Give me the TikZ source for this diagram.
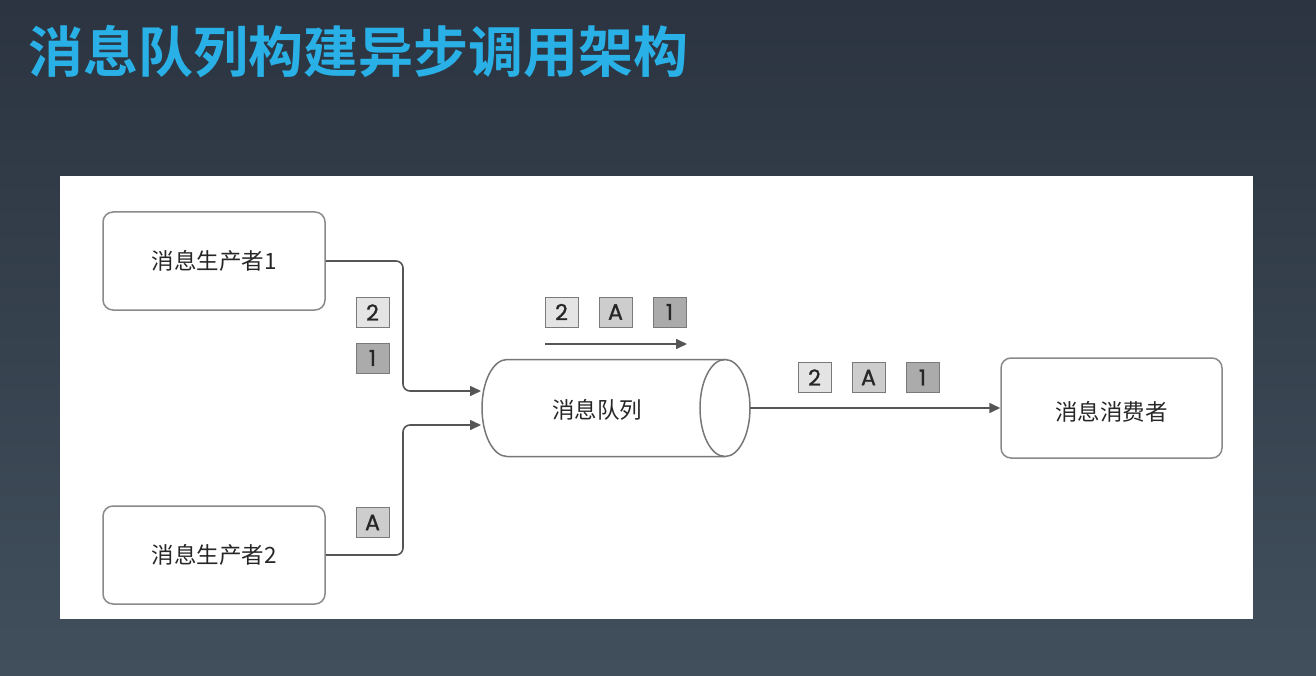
\documentclass[tikz,border=0pt]{standalone}
\usepackage{fontspec}
\setmainfont{Noto Sans CJK SC}
\newfontfamily\cjkbold{Noto Sans CJK SC Bold}
\newfontfamily\geo[FakeBold=1.2]{Poppins}
\usetikzlibrary{arrows.meta}
\definecolor{bgtop}{HTML}{2B3440}
\definecolor{bgbot}{HTML}{414F5C}
\definecolor{titleblue}{HTML}{29B0E6}
\definecolor{edge}{HTML}{8A8A8A}
\definecolor{wire}{HTML}{555555}
\definecolor{sqlight}{HTML}{E4E4E4}
\definecolor{sqmid}{HTML}{CDCDCD}
\definecolor{sqdark}{HTML}{ABABAB}
\definecolor{sqedge}{HTML}{7A7A7A}
\tikzset{
  box/.style={draw=edge, line width=1.5pt, rounded corners=10pt, fill=white,
    minimum width=222pt, minimum height=98pt, inner sep=0pt,
    font=\fontsize{22.5}{24}\selectfont, text=black!85},
  pkt/.style={draw=sqedge, line width=1pt, minimum width=33pt, minimum height=30pt,
    inner sep=0pt, font=\geo\fontsize{22}{24}\selectfont, text=black!85},
  wireline/.style={draw=wire, line width=1.6pt, rounded corners=7pt},
  tip/.style={-{Triangle[length=11pt,width=10pt]}}
}
\begin{document}
\begin{tikzpicture}[x=1pt,y=-1pt]
\useasboundingbox (0,0) rectangle (1316,676);
\shade[top color=bgtop, bottom color=bgbot] (0,0) rectangle (1316,676);
\fill[white] (60,176) rectangle (1253,619);
\node[anchor=west, text=titleblue, font=\cjkbold\fontsize{55}{60}\selectfont, inner sep=0pt] (title) at (28,52) {消息队列构建异步调用架构};

% producers and consumer
\node[box] (p1) at (214,261) {消息生产者1};
\node[box] (p2) at (214,555) {消息生产者2};
\node[box, minimum width=221pt, minimum height=100pt] (c) at (1111.5,408) {};
\node[font=\fontsize{22.5}{24}\selectfont, text=black!85, inner sep=0pt] (clabel) at (1111.5,412) {消息消费者};

% queue (cylinder)
\node[minimum width=268pt, minimum height=97pt, inner sep=0pt] (q) at (616,408) {};
\draw[draw=wire!80, line width=1.5pt, fill=white]
  (725,359.5) -- (507,359.5) arc[start angle=90, end angle=270, x radius=25pt, y radius=48.5pt] -- (725,456.5);
\draw[draw=wire!80, line width=1.5pt] (725,408) ellipse[x radius=25pt, y radius=48.5pt];
\node[font=\fontsize{22.5}{24}\selectfont, text=black!85, inner sep=0pt] (qlabel) at (597,410) {消息队列};

% connectors
\coordinate (in1) at (481,391);
\coordinate (in2) at (481,425);
\draw[wireline, tip] (p1.east) -- (403,261) -- (403,391) -- (in1);
\draw[wireline, tip] (p2.east) -- (403,555) -- (403,425) -- (in2);
\draw[draw=wire, line width=1.6pt, tip] (q.east) -- (c.west);
\coordinate (a1) at (545,344);
\coordinate (a2) at (687,344);
\draw[draw=wire, line width=1.6pt, tip] (a1) -- (a2);

% packets
\node[pkt, fill=sqlight] (s2a) at (372.5,312.5) {2};
\node[pkt, fill=sqdark]  (s1a) at (372.5,358) {1};
\node[pkt, fill=sqmid]   (sAa) at (372.5,522.5) {A};

\node[pkt, fill=sqlight] (s2b) at (561.5,312) {2};
\node[pkt, fill=sqmid]   (sAb) at (615.5,312) {A};
\node[pkt, fill=sqdark]  (s1b) at (669.5,312) {1};

\node[pkt, fill=sqlight] (s2c) at (814.5,377.5) {2};
\node[pkt, fill=sqmid]   (sAc) at (868.5,377.5) {A};
\node[pkt, fill=sqdark]  (s1c) at (922.5,377.5) {1};
\end{tikzpicture}
\end{document}
